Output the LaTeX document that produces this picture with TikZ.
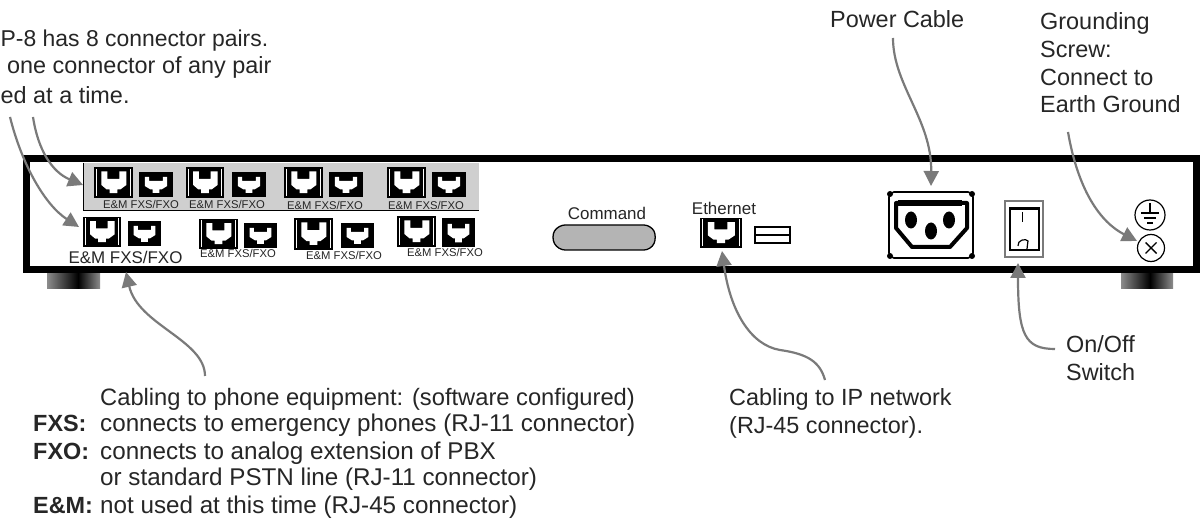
\documentclass[tikz,border=0pt]{standalone}
\usepackage{fontspec}
\setmainfont{Liberation Sans}
\usetikzlibrary{arrows.meta}
\definecolor{ink}{HTML}{262626}
\definecolor{arrowgray}{HTML}{7A7A7A}
\definecolor{panelgray}{HTML}{CFCFCF}
\definecolor{cmdgray}{HTML}{B4B4B4}
\tikzset{
  lbl/.style={inner sep=0pt,text=ink,font=\fontsize{#1}{#1}\selectfont},
  lbl/.default=23.5,
  callout/.style={draw=arrowgray,line width=2.2pt,-{Triangle[length=15bp,width=15bp]}},
  jackbox/.style={fill=black,draw=none,inner sep=0pt,minimum width=0pt,minimum height=0pt},
  footL/.style={left color=#1,right color=black,draw=none},
  footR/.style={left color=black,right color=#1,draw=none},
}
% big jack: name, x0, y0, x1, y1
\newcommand{\bigjack}[5]{%
  \pgfmathsetmacro{\jw}{#4-#2}\pgfmathsetmacro{\jh}{#5-#3}%
  \node[jackbox,anchor=north west,minimum width=\jw bp,minimum height=\jh bp] (#1) at (#2,#3) {};
  \begin{scope}[shift={(#2,#3)},x=\jw bp,y=-\jh bp]
    \fill[white] (.19,.14)--(.34,.14)--(.34,.38)--(.65,.38)--(.65,.14)--(.83,.14)--(.83,.58)--(.68,.72)--(.6,.72)--(.6,.84)--(.4,.84)--(.4,.72)--(.32,.72)--(.19,.58)--cycle;
    \draw[white,line width=.9pt] (.06,.05)--(.06,.95) (.94,.05)--(.94,.95);
  \end{scope}}
\newcommand{\smalljack}[5]{%
  \pgfmathsetmacro{\jw}{#4-#2}\pgfmathsetmacro{\jh}{#5-#3}%
  \node[jackbox,anchor=north west,minimum width=\jw bp,minimum height=\jh bp] (#1) at (#2,#3) {};
  \begin{scope}[shift={(#2,#3)},x=\jw bp,y=-\jh bp]
    \fill[white] (.17,.2)--(.3,.2)--(.3,.36)--(.7,.36)--(.7,.2)--(.83,.2)--(.83,.56)--(.66,.7)--(.6,.7)--(.6,.84)--(.4,.84)--(.4,.7)--(.34,.7)--(.17,.56)--cycle;
  \end{scope}}
\begin{document}
\begin{tikzpicture}[x=1bp,y=-1bp]
\useasboundingbox (0,0) rectangle (1202,527);
\clip (0,0) rectangle (1202,527);
\fill[white] (0,0) rectangle (1202,527);

% feet
\fill[footL=gray!90] (47,268) rectangle (78,289);
\fill[footR=gray!90] (78,268) rectangle (100,289);
\fill[footL=gray!90] (1121,268) rectangle (1150,289);
\fill[footR=gray!90] (1150,268) rectangle (1173,289);

% chassis
\draw[line width=7.5bp] (26.5,158.5) rectangle (1196.5,269.5);
\fill[panelgray] (83,163) rectangle (479,211);
\draw[line width=1bp] (83.5,163) -- (83.5,211) -- (479,211);

% top row
\bigjack{a1}{94}{167}{133}{198}\smalljack{a2}{139}{172}{173}{197}
\bigjack{b1}{186}{167}{224}{198}\smalljack{b2}{232}{172}{266}{197}
\bigjack{c1}{284}{167}{323}{198}\smalljack{c2}{329}{172}{363}{197}
\bigjack{d1}{387}{167}{426}{198}\smalljack{d2}{432}{172}{466}{197}
\node[lbl=11.3,anchor=center] (la) at (141,204) {E\&M FXS/FXO};
\node[lbl=11.3,anchor=center] (lb) at (227,204) {E\&M FXS/FXO};
\node[lbl=11.3,anchor=center] (lc) at (325,205) {E\&M FXS/FXO};
\node[lbl=11.3,anchor=center] (ld) at (426,205) {E\&M FXS/FXO};

% bottom row
\bigjack{e1}{83}{217}{121}{247}\smalljack{e2}{128}{221}{161}{246}
\bigjack{f1}{199}{219}{238}{249}\smalljack{f2}{244}{223}{277}{248}
\bigjack{g1}{294}{218}{333}{250}\smalljack{g2}{341}{223}{374}{248}
\bigjack{h1}{397}{216}{436}{247}\smalljack{h2}{442}{218}{475}{247}
\node[lbl=17,anchor=center] (le) at (125.5,257) {E\&M FXS/FXO};
\node[lbl=11.3,anchor=center] (lf) at (238,253) {E\&M FXS/FXO};
\node[lbl=11.3,anchor=center] (lg) at (344,255) {E\&M FXS/FXO};
\node[lbl=11.3,anchor=center] (lh) at (445,252) {E\&M FXS/FXO};

% command
\node[lbl=17,anchor=center] (cmdl) at (607,213) {Command};
\draw[line width=1.3bp,fill=cmdgray,rounded corners=7bp] (551,237) -- (558,225) -- (651,225) -- (657,237) -- (651,250) -- (558,250) -- cycle;

% ethernet
\node[lbl=17,anchor=center] (ethl) at (724,208) {Ethernet};
\bigjack{eth}{700}{218}{742}{248}
\draw[line width=2.2bp,fill=white] (755,227) rectangle (790,243);
\draw[line width=1.6bp] (755,235) -- (790,235);

% power inlet
\draw[line width=1.6bp,rounded corners=5bp,fill=white] (889,192) rectangle (973,258);
\fill (890,194) circle (3bp) (972,194) circle (3bp) (890,256) circle (3bp) (972,256) circle (3bp);
\draw[line width=4bp,line join=round,fill=white] (896,203) -- (967,203) -- (967,228) -- (950,247) -- (912,247) -- (896,228) -- cycle;
\fill (898,200) rectangle (962,206);
\fill (911,220) ellipse (6bp and 8.5bp) (949,220) ellipse (6bp and 8.5bp) (931,231) ellipse (6bp and 8.5bp);

% switch
\draw[draw=arrowgray,line width=1.3bp,fill=white] (1005,201) rectangle (1043,257);
\draw[line width=1.3bp] (1010,208) rectangle (1039,250);
\draw[line width=2bp] (1010,209) -- (1039,209);
\draw[line width=1.2bp] (1022.5,212) -- (1022.5,222);
\draw[line width=1.2bp] (1018,246) .. controls (1017,240) and (1026,238) .. (1028,241) .. controls (1028,243) and (1027,246) .. (1027,249);

% ground symbol and screw
\node[circle,draw,line width=1.2bp,minimum size=30bp,inner sep=0pt] (gnd) at (1150,215) {};
\draw[line width=1.2bp] (1150,203) -- (1150,213) (1141,213) -- (1159,213);
\draw[line width=1.2bp] (1144,218) -- (1156,218) (1147,223) -- (1153,223);
\node[circle,draw,line width=1.2bp,minimum size=27bp,inner sep=0pt] (screw) at (1151,248) {};
\draw[line width=1.4bp] (1145.5,242.5) -- (1156.5,253.5) (1156.5,242.5) -- (1145.5,253.5);

% labels
\node[lbl=23,anchor=base west] (t1) at (0.5,47) {P-8 has 8 connector pairs.};
\node[lbl,anchor=base west] (t2) at (7,74) {one connector of any pair};
\node[lbl,anchor=base west] (t3) at (0.5,104) {ed at a time.};
\node[lbl,anchor=base west] (pw) at (830,28) {Power Cable};
\node[lbl,anchor=base west] (g1) at (1040,30) {Grounding};
\node[lbl,anchor=base west] (g2) at (1040,58) {Screw:};
\node[lbl,anchor=base west] (g3) at (1040,86) {Connect to};
\node[lbl,anchor=base west] (g4) at (1040,113) {Earth Ground};
\node[lbl,anchor=base west] (on1) at (1066,353) {On/Off};
\node[lbl,anchor=base west] (on2) at (1066,381) {Switch};
\node[lbl,anchor=base west] (ip1) at (729,405) {Cabling to IP network};
\node[lbl,anchor=base west] (ip2) at (729,433) {(RJ-45 connector).};
\node[lbl=23.8,anchor=base west] (c0) at (100,405) {Cabling to phone equipment: (software configured)};
\node[lbl,anchor=base west] (c1a) at (33,431) {\textbf{FXS:}};
\node[lbl=24.3,anchor=base west] (c1) at (100,431) {connects to emergency phones (RJ-11 connector)};
\node[lbl,anchor=base west] (c2a) at (33,459) {\textbf{FXO:}};
\node[lbl=24.3,anchor=base west] (c2) at (100,459) {connects to analog extension of PBX};
\node[lbl=24.3,anchor=base west] (c3) at (100,485) {or standard PSTN line (RJ-11 connector)};
\node[lbl,anchor=base west] (c4a) at (33,513) {\textbf{E\&M:}};
\node[lbl=24.3,anchor=base west] (c4) at (100,513) {not used at this time (RJ-45 connector)};

% callouts
\coordinate (s1) at (33,117); \coordinate (s2) at (10,117);
\coordinate (s3) at (205,376); \coordinate (s4) at (825,380);
\coordinate (s5) at (893,38); \coordinate (s6) at (1068,132);
\coordinate (s7) at (1055,349);
\coordinate (t1tip) at (83,185); \coordinate (t2tip) at (79,227);
\coordinate (t3tip) at (126,272); \coordinate (t4tip) at (722,251);
\coordinate (t5tip) at (931,186); \coordinate (t6tip) at (1137,241);
\coordinate (t7tip) at (1018,263);
\coordinate (m4) at (780,350);
\draw[callout] (s1) .. controls (38,150) and (52,172) .. (t1tip);
\draw[callout] (s2) .. controls (22,165) and (45,205) .. (t2tip);
\draw[callout] (s3) .. controls (205,340) and (138,325) .. (t3tip);
\draw[callout] (s4) .. controls (820,362) and (808,354) .. (m4) .. controls (750,345) and (730,310) .. (t4tip);
\draw[callout] (s5) .. controls (893,85) and (932,120) .. (t5tip);
\draw[callout] (s6) .. controls (1078,190) and (1100,222) .. (t6tip);
\draw[callout] (s7) .. controls (1025,349) and (1018,335) .. (t7tip);
\end{tikzpicture}
\end{document}
